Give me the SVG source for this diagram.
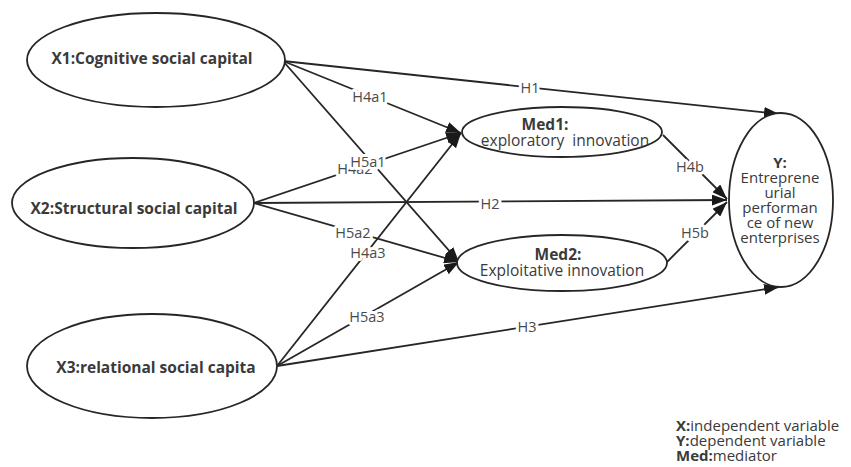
<svg xmlns="http://www.w3.org/2000/svg" width="851" height="467" viewBox="0 0 851 467">
<style>
.node{fill:#fff;stroke:#262626;stroke-width:1.8}
.nt{font-family:"Open Sans","Liberation Sans",sans-serif;font-size:15.5px;fill:#3a3a3a;text-anchor:middle}
.b{font-weight:bold}
.ln{fill:none;stroke:#262626;stroke-width:1.8}
.lb{font-family:"Open Sans","Liberation Sans",sans-serif;font-size:14.5px;fill:#4a4a4a;text-anchor:middle;stroke:#fff;stroke-width:6;paint-order:stroke;stroke-linejoin:round}
.lg{font-family:"Open Sans","Liberation Sans",sans-serif;font-size:15px;fill:#3a3a3a}
</style>
<defs>
<marker id="ah" markerUnits="userSpaceOnUse" markerWidth="15" markerHeight="11" refX="15" refY="5.5" orient="auto">
<path d="M0,0 L15,5.5 L0,11 z" fill="#1a1a1a"/>
</marker>
</defs>
<rect width="851" height="467" fill="#fff"/>
<g id="connectors">
<line class="ln" x1="283" y1="61" x2="779" y2="114" marker-end="url(#ah)"/>
<line class="ln" x1="283" y1="61" x2="461" y2="133" marker-end="url(#ah)"/>
<line class="ln" x1="283" y1="61" x2="459" y2="262" marker-end="url(#ah)"/>
<line class="ln" x1="254" y1="203" x2="461" y2="133" marker-end="url(#ah)"/>
<line class="ln" x1="254" y1="203" x2="727" y2="200" marker-end="url(#ah)"/>
<line class="ln" x1="254" y1="203" x2="459" y2="262" marker-end="url(#ah)"/>
<line class="ln" x1="277" y1="366" x2="461" y2="133" marker-end="url(#ah)"/>
<line class="ln" x1="277" y1="366" x2="459" y2="262" marker-end="url(#ah)"/>
<line class="ln" x1="277" y1="366" x2="779" y2="287" marker-end="url(#ah)"/>
<line class="ln" x1="663" y1="135" x2="727" y2="199" marker-end="url(#ah)"/>
<line class="ln" x1="667" y1="262" x2="727" y2="202" marker-end="url(#ah)"/>
<text class="lb" x="530" y="93">H1</text>
<text class="lb" x="370" y="102">H4a1</text>
<text class="lb" x="355" y="174">H4a2</text>
<text class="lb" x="368" y="167">H5a1</text>
<text class="lb" x="490" y="209">H2</text>
<text class="lb" x="353" y="238">H5a2</text>
<text class="lb" x="368" y="258">H4a3</text>
<text class="lb" x="367" y="322">H5a3</text>
<text class="lb" x="527" y="332">H3</text>
<text class="lb" x="690" y="172">H4b</text>
<text class="lb" x="695" y="238">H5b</text>
</g>
<g id="X1">
<ellipse class="node" cx="156" cy="60" rx="129" ry="47"/>
<text class="nt b" x="152" y="64">X1:Cognitive social capital</text>
</g>
<g id="X2">
<ellipse class="node" cx="133" cy="203" rx="121" ry="45"/>
<text class="nt b" x="134" y="214">X2:Structural social capital</text>
</g>
<g id="X3">
<ellipse class="node" cx="152" cy="366" rx="125" ry="52"/>
<text class="nt b" x="156" y="373">X3:relational social capita</text>
</g>
<g id="Med1">
<ellipse class="node" cx="562" cy="132" rx="100" ry="25"/>
<text class="nt b" x="545" y="130">Med1:</text>
<text class="nt" x="565" y="146">exploratory&#160; innovation</text>
</g>
<g id="Med2">
<ellipse class="node" cx="562" cy="263" rx="105" ry="28"/>
<text class="nt b" x="558" y="260">Med2:</text>
<text class="nt" x="562" y="276">Exploitative innovation</text>
</g>
<g id="Y">
<ellipse class="node" cx="781" cy="200" rx="52" ry="87"/>
<text class="nt b" x="780" y="168" style="font-size:15px">Y:</text>
<text class="nt" x="780" y="183" style="font-size:15px">Entreprene</text>
<text class="nt" x="780" y="198" style="font-size:15px">urial</text>
<text class="nt" x="780" y="213" style="font-size:15px">performan</text>
<text class="nt" x="780" y="228" style="font-size:15px">ce of new</text>
<text class="nt" x="780" y="243" style="font-size:15px">enterprises</text>
</g>
<g id="legend">
<text class="lg" x="676" y="431"><tspan font-weight="bold">X:</tspan>independent variable</text>
<text class="lg" x="676" y="446"><tspan font-weight="bold">Y:</tspan>dependent variable</text>
<text class="lg" x="676" y="461"><tspan font-weight="bold">Med:</tspan>mediator</text>
</g>
</svg>
